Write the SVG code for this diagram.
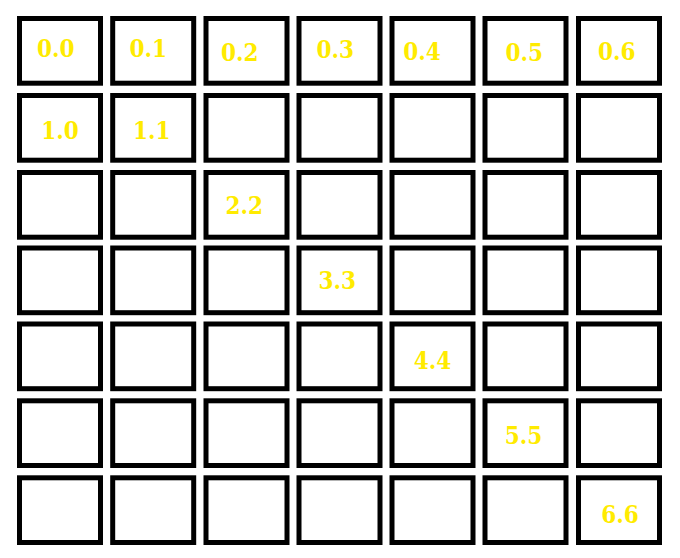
<svg xmlns="http://www.w3.org/2000/svg" width="680" height="558" viewBox="0 0 680 558">
<style>
.cell{fill:#ffffff;stroke:#000000;stroke-width:5}
.lbl{fill:#FFEB00;font-family:"DejaVu Serif Condensed","DejaVu Serif",serif;font-stretch:condensed;font-weight:bold;font-size:24px;text-anchor:middle}
</style>
<defs>
<rect id="c" class="cell" x="2.5" y="2.5" width="81" height="64.7"/>
</defs>
<rect width="680" height="558" fill="#ffffff"/>
<g id="connectors"></g>
<g id="row0">
<g id="cell-0-0" transform="translate(17,16)"><use href="#c"/></g>
<g id="cell-0-1" transform="translate(110.2,16)"><use href="#c"/></g>
<g id="cell-0-2" transform="translate(203.5,16)"><use href="#c"/></g>
<g id="cell-0-3" transform="translate(296.5,16)"><use href="#c"/></g>
<g id="cell-0-4" transform="translate(389.5,16)"><use href="#c"/></g>
<g id="cell-0-5" transform="translate(482.5,16)"><use href="#c"/></g>
<g id="cell-0-6" transform="translate(576,16)"><use href="#c"/></g>
</g>
<g id="row1">
<g id="cell-1-0" transform="translate(17,93)"><use href="#c"/></g>
<g id="cell-1-1" transform="translate(110.2,93)"><use href="#c"/></g>
<g id="cell-1-2" transform="translate(203.5,93)"><use href="#c"/></g>
<g id="cell-1-3" transform="translate(296.5,93)"><use href="#c"/></g>
<g id="cell-1-4" transform="translate(389.5,93)"><use href="#c"/></g>
<g id="cell-1-5" transform="translate(482.5,93)"><use href="#c"/></g>
<g id="cell-1-6" transform="translate(576,93)"><use href="#c"/></g>
</g>
<g id="row2">
<g id="cell-2-0" transform="translate(17,170)"><use href="#c"/></g>
<g id="cell-2-1" transform="translate(110.2,170)"><use href="#c"/></g>
<g id="cell-2-2" transform="translate(203.5,170)"><use href="#c"/></g>
<g id="cell-2-3" transform="translate(296.5,170)"><use href="#c"/></g>
<g id="cell-2-4" transform="translate(389.5,170)"><use href="#c"/></g>
<g id="cell-2-5" transform="translate(482.5,170)"><use href="#c"/></g>
<g id="cell-2-6" transform="translate(576,170)"><use href="#c"/></g>
</g>
<g id="row3">
<g id="cell-3-0" transform="translate(17,245.5)"><use href="#c"/></g>
<g id="cell-3-1" transform="translate(110.2,245.5)"><use href="#c"/></g>
<g id="cell-3-2" transform="translate(203.5,245.5)"><use href="#c"/></g>
<g id="cell-3-3" transform="translate(296.5,245.5)"><use href="#c"/></g>
<g id="cell-3-4" transform="translate(389.5,245.5)"><use href="#c"/></g>
<g id="cell-3-5" transform="translate(482.5,245.5)"><use href="#c"/></g>
<g id="cell-3-6" transform="translate(576,245.5)"><use href="#c"/></g>
</g>
<g id="row4">
<g id="cell-4-0" transform="translate(17,321.5)"><use href="#c"/></g>
<g id="cell-4-1" transform="translate(110.2,321.5)"><use href="#c"/></g>
<g id="cell-4-2" transform="translate(203.5,321.5)"><use href="#c"/></g>
<g id="cell-4-3" transform="translate(296.5,321.5)"><use href="#c"/></g>
<g id="cell-4-4" transform="translate(389.5,321.5)"><use href="#c"/></g>
<g id="cell-4-5" transform="translate(482.5,321.5)"><use href="#c"/></g>
<g id="cell-4-6" transform="translate(576,321.5)"><use href="#c"/></g>
</g>
<g id="row5">
<g id="cell-5-0" transform="translate(17,398.3)"><use href="#c"/></g>
<g id="cell-5-1" transform="translate(110.2,398.3)"><use href="#c"/></g>
<g id="cell-5-2" transform="translate(203.5,398.3)"><use href="#c"/></g>
<g id="cell-5-3" transform="translate(296.5,398.3)"><use href="#c"/></g>
<g id="cell-5-4" transform="translate(389.5,398.3)"><use href="#c"/></g>
<g id="cell-5-5" transform="translate(482.5,398.3)"><use href="#c"/></g>
<g id="cell-5-6" transform="translate(576,398.3)"><use href="#c"/></g>
</g>
<g id="row6">
<g id="cell-6-0" transform="translate(17,475.3)"><use href="#c"/></g>
<g id="cell-6-1" transform="translate(110.2,475.3)"><use href="#c"/></g>
<g id="cell-6-2" transform="translate(203.5,475.3)"><use href="#c"/></g>
<g id="cell-6-3" transform="translate(296.5,475.3)"><use href="#c"/></g>
<g id="cell-6-4" transform="translate(389.5,475.3)"><use href="#c"/></g>
<g id="cell-6-5" transform="translate(482.5,475.3)"><use href="#c"/></g>
<g id="cell-6-6" transform="translate(576,475.3)"><use href="#c"/></g>
</g>
<g id="labels">
<text class="lbl" x="55.8" y="56.5">0.0</text>
<text class="lbl" x="148.3" y="57.3">0.1</text>
<text class="lbl" x="239.7" y="61">0.2</text>
<text class="lbl" x="335.2" y="58.3">0.3</text>
<text class="lbl" x="422" y="60">0.4</text>
<text class="lbl" x="524.3" y="61">0.5</text>
<text class="lbl" x="616.7" y="59.7">0.6</text>
<text class="lbl" x="60" y="139">1.0</text>
<text class="lbl" x="151.7" y="139">1.1</text>
<text class="lbl" x="244.2" y="214.3">2.2</text>
<text class="lbl" x="337.2" y="289.3">3.3</text>
<text class="lbl" x="432.5" y="369.3">4.4</text>
<text class="lbl" x="523.5" y="444">5.5</text>
<text class="lbl" x="620" y="523.3">6.6</text>
</g>
</svg>
